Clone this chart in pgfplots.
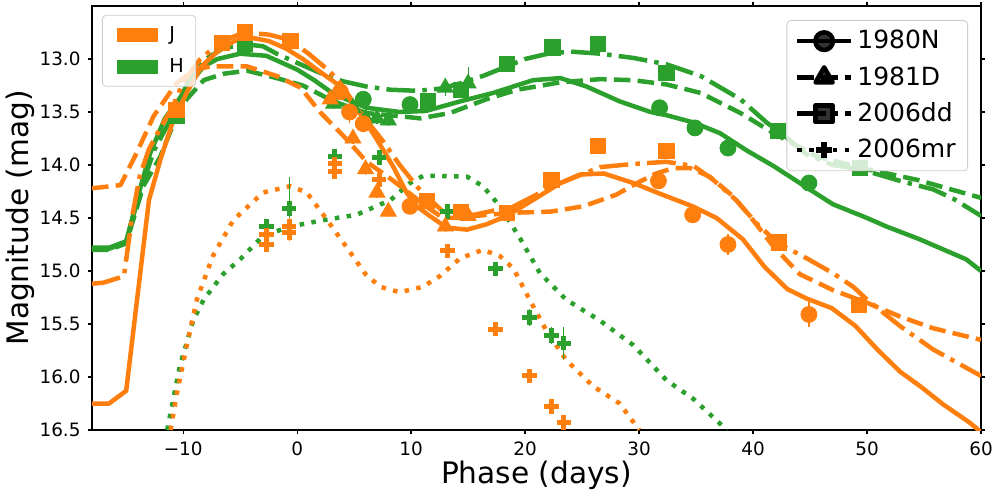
\documentclass[border=0pt]{standalone}
\usepackage{fontspec}
\setmainfont{DejaVu Sans}
\usepackage{pgfplots}
\pgfplotsset{compat=1.18}

\definecolor{cJ}{HTML}{FF7F0E}
\definecolor{cH}{HTML}{2CA02C}

\tikzset{
  lw/.style={line width=2.25pt, line join=round},
  sdash/.style={dash pattern=on 8.3pt off 3.6pt},
  sdashdot/.style={dash pattern=on 14.4pt off 3.6pt on 2.25pt off 3.6pt},
  sdot/.style={dash pattern=on 2.25pt off 3.7pt},
}
\pgfplotsset{
  pts/.style={only marks, color=#1, mark options={solid, fill=#1},
    error bars/y dir=both, error bars/y explicit, error bars/error mark=none,
    error bars/error bar style={line width=0.6pt, solid, color=#1}},
  mcirc/.style={mark=*, mark size=4pt},
  mtri/.style={mark=triangle*, mark size=4.6pt},
  msq/.style={mark=square*, mark size=3.8pt},
  mplus/.style={mark=+, mark size=3.6pt, mark options={line width=2.5pt}},
}

\begin{document}
\begin{tikzpicture}
\begin{axis}[
  name=main,
  scale only axis, width=444.5pt, height=212pt,
  xmin=-18, xmax=60, ymin=12.5, ymax=16.5,
  y dir=reverse,
  axis line style={line width=0.65pt},
  tick align=outside, major tick length=2.2pt,
  tick style={line width=0.65pt, black},
  xtick={-10,0,10,20,30,40,50,60},
  xticklabels={−10,0,10,20,30,40,50,60},
  ytick={13,13.5,14,14.5,15,15.5,16,16.5},
  yticklabels={13.0,13.5,14.0,14.5,15.0,15.5,16.0,16.5},
  tick label style={font=\fontsize{9.2}{10.5}\selectfont},
  xlabel={Phase (days)},
  ylabel={Magnitude (mag)},
  label style={font=\fontsize{14.8}{17}\selectfont},
  xlabel style={at={(axis description cs:0.5,-0.108)}, anchor=center},
  ylabel style={at={(axis description cs:-0.081,0.5)}, anchor=center},
  clip=true,
]
% ---- H models ----
\addplot[cH, lw] coordinates {(-18,14.78) (-16.5,14.78) (-15,14.72) (-13.8,14.23) (-12.9,13.89) (-11.6,13.56) (-10.5,13.4) (-9.4,13.23) (-8.2,13.07) (-7,13.0) (-5,12.95) (-2.7,12.97) (0,13.1) (1.5,13.2) (3.2,13.33) (6.1,13.46) (9,13.5) (11.3,13.49) (14.3,13.4) (17.2,13.32) (20.7,13.2) (23.1,13.18) (25.4,13.26) (28.3,13.4) (31,13.5) (32.4,13.53) (34.8,13.6) (37.1,13.7) (39.4,13.86) (41.8,14.01) (44.1,14.17) (47,14.37) (50,14.5) (51.7,14.58) (54.6,14.7) (58.7,14.89) (60,15.0)};
\addplot[cH, lw, sdash] coordinates {(-18,14.8) (-16.5,14.8) (-15,14.74) (-13.5,14.2) (-12,13.92) (-11,13.65) (-9.7,13.38) (-8.2,13.2) (-6.5,13.14) (-4.4,13.11) (-1.8,13.18) (0.5,13.25) (3.2,13.4) (6.1,13.51) (9,13.54) (10.8,13.56) (13.4,13.51) (16.6,13.38) (19.3,13.29) (23.1,13.22) (26.6,13.19) (29.5,13.2) (32.4,13.24) (35.4,13.32) (38.9,13.51) (41.8,13.7) (45.6,13.92) (50,14.04) (54.4,14.14) (60,14.31)};
\addplot[cH, lw, sdashdot] coordinates {(-18,14.79) (-16.5,14.79) (-15,14.73) (-13.8,14.25) (-12.5,13.85) (-11,13.55) (-9.5,13.2) (-8,13.0) (-6.5,12.9) (-4.6,12.86) (-3,12.88) (-1.8,12.95) (0.5,13.06) (2,13.13) (4,13.21) (6.1,13.26) (8.2,13.29) (10.5,13.3) (12.5,13.28) (14,13.24) (16.3,13.16) (18.4,13.07) (20,13.0) (22,12.95) (24,12.93) (26.6,12.95) (29.5,12.99) (32.4,13.05) (35.4,13.16) (38.9,13.38) (41.2,13.6) (42.5,13.7) (44.7,13.9) (47,14.0) (49.4,14.04) (52.9,14.15) (55.8,14.23) (57.6,14.32) (60,14.48)};
\addplot[cH, lw, sdot] coordinates {(-11.4,16.5) (-10.3,15.9) (-9.1,15.46) (-8.2,15.27) (-6.5,15.03) (-5,14.89) (-3,14.67) (-0.6,14.58) (2.3,14.52) (5.2,14.47) (8.2,14.33) (9.9,14.17) (11.1,14.1) (14.9,14.11) (16.3,14.2) (17.8,14.39) (19.6,14.7) (21.3,15.02) (23.6,15.27) (26.6,15.47) (29.5,15.7) (32.4,16.03) (34.8,16.21) (37.7,16.5)};
% ---- J models ----
\addplot[cJ, lw] coordinates {(-18,16.25) (-16.5,16.25) (-15,16.13) (-13,14.33) (-12,13.95) (-11,13.62) (-9.7,13.32) (-8.4,13.07) (-7,12.93) (-5.5,12.83) (-4,12.8) (-2.5,12.83) (-1,12.9) (0.5,13.0) (2,13.12) (3.3,13.22) (4.1,13.3) (5.5,13.51) (7,13.76) (8.4,14.01) (9.6,14.26) (10.5,14.39) (11.5,14.47) (13.1,14.59) (14.9,14.61) (16.6,14.56) (18.4,14.48) (20.7,14.33) (23.1,14.17) (24.8,14.09) (26.9,14.08) (29.5,14.17) (31.8,14.27) (34.7,14.39) (36.8,14.5) (39.1,14.7) (41,14.96) (43,15.17) (44.7,15.26) (46.9,15.35) (49,15.52) (50.9,15.74) (52.9,15.95) (54.7,16.09) (56.7,16.26) (59,16.43) (60,16.52)};
\addplot[cJ, lw, sdash] coordinates {(-18,14.22) (-15.5,14.19) (-14.1,13.89) (-12.6,13.54) (-10.6,13.23) (-9,13.1) (-7.6,13.07) (-4.4,13.07) (-1.8,13.16) (0.3,13.27) (2,13.5) (4.1,13.73) (6.1,13.97) (8.2,14.13) (9.9,14.27) (11.3,14.39) (12.8,14.5) (14,14.5) (15.7,14.48) (19,14.45) (22.2,14.44) (25.1,14.39) (28,14.28) (30,14.16) (31.5,14.08) (33,14.03) (34.5,14.03) (36.2,14.11) (38.3,14.3) (40,14.52) (41.8,14.77) (44.1,15.03) (47,15.18) (50,15.3) (52.9,15.43) (55.8,15.54) (60,15.65)};
\addplot[cJ, lw, sdashdot] coordinates {(-18,15.12) (-17,15.11) (-15.2,15.05) (-14.5,14.5) (-13.8,14.1) (-13,13.85) (-12,13.65) (-11,13.47) (-10,13.22) (-8.5,13.0) (-6.6,12.83) (-4.6,12.75) (-2.5,12.77) (-0.6,12.82) (1,12.95) (2.9,13.12) (4,13.26) (5.5,13.5) (7.5,13.77) (9,14.0) (10.8,14.24) (12.8,14.44) (15.5,14.47) (19,14.39) (21,14.28) (23.1,14.17) (26.6,14.02) (29.5,13.99) (32.4,13.97) (34.8,14.01) (36.5,14.14) (38.5,14.33) (40.3,14.55) (41.8,14.7) (42.4,14.75) (44.7,14.88) (47,15.02) (48.8,15.15) (50,15.27) (52.9,15.52) (55.8,15.74) (60,15.99)};
\addplot[cJ, lw, sdot] coordinates {(-11.1,16.5) (-10.6,16.18) (-9.7,15.71) (-8.8,15.27) (-7.4,14.86) (-5.6,14.52) (-3,14.26) (-0.6,14.2) (0.85,14.26) (2.5,14.5) (4.3,14.77) (6,15.03) (7.3,15.15) (9,15.2) (11,15.15) (12.5,15.05) (14.3,14.88) (16.3,14.8) (17.8,14.86) (19,14.98) (20.1,15.21) (21.8,15.55) (23.6,15.84) (26,16.09) (28.3,16.25) (29.8,16.47) (30,16.5)};
% ---- H data ----
\addplot[pts=cH, mcirc] coordinates {(5.8,13.38) +- (0,0.05) (9.9,13.43) +- (0,0.05) (31.8,13.46) +- (0,0.05) (34.9,13.65) +- (0,0.05) (37.8,13.84) +- (0,0.06) (44.9,14.17) +- (0,0.08)};
\addplot[pts=cH, mtri] coordinates {(3.2,13.42) +- (0,0.05) (4.9,13.46) +- (0,0.05) (6.0,13.56) +- (0,0.05) (7.0,13.56) +- (0,0.05) (8.0,13.58) +- (0,0.05) (13.0,13.27) +- (0,0.08) (15.0,13.23) +- (0,0.15)};
\addplot[pts=cH, msq] coordinates {(-10.6,13.54) +- (0,0.03) (-4.6,12.86) +- (0,0.03) (11.5,13.4) +- (0,0.04) (14.4,13.29) +- (0,0.05) (18.4,13.05) +- (0,0.03) (22.4,12.89) +- (0,0.03) (26.4,12.86) +- (0,0.03) (32.4,13.13) +- (0,0.04) (42.2,13.68) +- (0,0.05) (49.4,14.03) +- (0,0.05)};
\addplot[pts=cH, mplus] coordinates {(-2.7,14.58) +- (0,0.05) (-0.7,14.41) +- (0,0.3) (3.3,13.92) +- (0,0.05) (7.2,13.93) +- (0,0.05) (13.2,14.44) +- (0,0.05) (17.4,14.98) +- (0,0.05) (20.4,15.44) +- (0,0.08) (22.3,15.61) +- (0,0.08) (23.4,15.68) +- (0,0.15)};
% ---- J data ----
\addplot[pts=cJ, mcirc] coordinates {(3.8,13.31) +- (0,0.05) (4.6,13.5) +- (0,0.1) (5.8,13.61) +- (0,0.05) (9.9,14.39) +- (0,0.05) (31.7,14.15) +- (0,0.05) (34.7,14.47) +- (0,0.05) (37.8,14.75) +- (0,0.1) (44.9,15.41) +- (0,0.12)};
\addplot[pts=cJ, mtri] coordinates {(2.9,13.38) +- (0,0.05) (4.9,13.75) +- (0,0.05) (6.0,14.04) +- (0,0.05) (7.0,14.26) +- (0,0.05) (8.0,14.44) +- (0,0.05) (13.0,14.58) +- (0,0.05) (15.0,14.48) +- (0,0.05)};
\addplot[pts=cJ, msq] coordinates {(-10.6,13.48) +- (0,0.03) (-6.6,12.85) +- (0,0.03) (-4.6,12.75) +- (0,0.03) (-0.6,12.83) +- (0,0.03) (11.4,14.34) +- (0,0.04) (14.4,14.44) +- (0,0.05) (18.4,14.45) +- (0,0.04) (22.3,14.14) +- (0,0.04) (26.4,13.82) +- (0,0.03) (32.4,13.87) +- (0,0.05) (42.3,14.73) +- (0,0.05) (49.3,15.32) +- (0,0.06)};
\addplot[pts=cJ, mplus] coordinates {(-2.7,14.66) +- (0,0.05) (-2.7,14.75) +- (0,0.05) (-0.7,14.58) +- (0,0.08) (-0.7,14.64) +- (0,0.08) (3.3,13.99) +- (0,0.05) (3.3,14.06) +- (0,0.05) (7.2,14.14) +- (0,0.05) (13.2,14.81) +- (0,0.05) (17.4,15.55) +- (0,0.05) (20.4,15.99) +- (0,0.05) (22.3,16.28) +- (0,0.05) (23.4,16.43) +- (0,0.05)};
\coordinate (bl) at (axis description cs:0,0);
\coordinate (tr) at (axis description cs:1,1);
\end{axis}

% legend J / H
\begin{axis}[
  at={(main.south west)}, anchor=south west,
  scale only axis, width=444.5pt, height=212pt,
  hide axis, xmin=0, xmax=1, ymin=0, ymax=1,
  legend style={at={(axis description cs:0.0112,0.979)}, anchor=north west,
    font=\fontsize{9.6}{11}\selectfont, draw=black!20, rounded corners=2pt,
    fill=white, fill opacity=0.8, text opacity=1, row sep=3.5pt,
    inner xsep=4pt, inner ysep=3.5pt},
  legend cell align=left,
  legend image code/.code={\draw[#1, line width=7pt] (0pt,0pt) -- (20.5pt,0pt);},
]
\addlegendimage{cJ}
\addlegendentry{J}
\addlegendimage{cH}
\addlegendentry{H}
\end{axis}

% legend SN
\begin{axis}[
  at={(main.south west)}, anchor=south west,
  scale only axis, width=444.5pt, height=212pt,
  hide axis, xmin=0, xmax=1, ymin=0, ymax=1,
  legend style={at={(axis description cs:0.9854,0.967)}, anchor=north east,
    font=\fontsize{12.5}{14.5}\selectfont, draw=black!20, rounded corners=2pt,
    fill=white, fill opacity=0.8, text opacity=1, row sep=3.3pt,
    inner xsep=4pt, inner ysep=3pt},
  legend cell align=left,
  legend image code/.code={\draw[#1, mark repeat=2, mark phase=2] plot coordinates {(0pt,0pt) (13.5pt,0pt) (27pt,0pt)};},
]
\addlegendimage{black, lw, mark=*, mark size=4.4pt, mark options={solid}}
\addlegendentry{1980N}
\addlegendimage{black, lw, sdash, mark=triangle*, mark size=5pt, mark options={solid}}
\addlegendentry{1981D}
\addlegendimage{black, lw, sdashdot, mark=square*, mark size=4.2pt, mark options={solid}}
\addlegendentry{2006dd}
\addlegendimage{black, lw, sdot, mark=+, mark size=4pt, mark options={solid, line width=2.8pt}}
\addlegendentry{2006mr}
\end{axis}

\pgfresetboundingbox
\path[use as bounding box] ([shift={(-46pt,-33pt)}]bl) rectangle ([shift={(9.5pt,3pt)}]tr);
\end{tikzpicture}
\end{document}
